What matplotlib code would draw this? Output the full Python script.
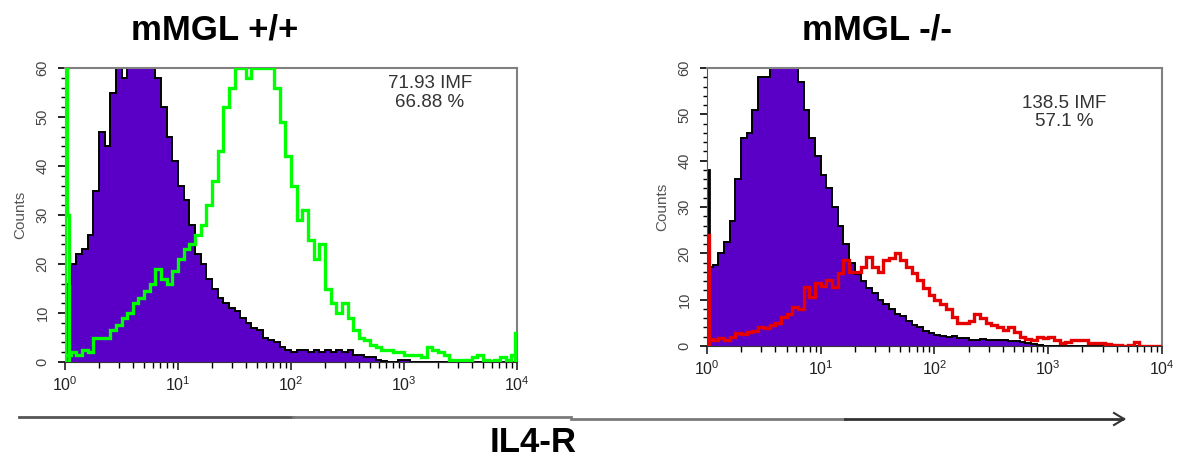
# -*- coding: utf-8 -*-
# Гистограммы IL4-R (проточная цитометрия): mMGL +/+ и mMGL -/-
import numpy as np
import matplotlib.pyplot as plt
from matplotlib.lines import Line2D
from matplotlib.ticker import LogLocator, MultipleLocator, NullFormatter

plt.rcParams['font.family'] = ['Liberation Sans', 'DejaVu Sans']

# Шкала: 4 декады, 80 бинов по 0.05 декады
decades = 4
n_bins = 80

# Изотипический контроль, mMGL +/+
iso_wt = [16, 20, 22, 23, 26, 35, 47, 44, 55, 60,
          58, 60, 60, 60, 60, 60, 58, 52, 46, 41,
          36, 33, 28, 22, 20, 17, 15, 13, 12, 11,
          10.5, 9, 8, 7, 6.5, 5, 4.5, 4, 3, 2.5,
          2, 2.5, 2.5, 2, 2.5, 2, 2.5, 2, 2.5, 2,
          2.5, 1.5, 1.5, 1, 1, 0.5, 0.3, 0, 0, 0.5,
          0.4, 0, 0, 0, 0, 0, 0, 0, 0, 0,
          0, 0, 0, 0, 0, 0, 0, 0, 0, 0]

# IL4-R, mMGL +/+
il4r_wt = [1.5, 2, 1.5, 2.5, 2, 5, 5, 5, 6.5, 7.5,
           9, 10, 12, 13, 14.5, 16, 19, 17, 16, 18.5,
           21, 23, 24, 26, 28, 32, 37, 43, 52, 56,
           60, 60, 58, 60, 60, 60, 60, 56, 49, 42,
           36, 29, 31, 25, 21, 24, 15, 12, 10, 12,
           9, 6.5, 5, 4.5, 3.5, 3, 2.5, 2.5, 2, 2,
           1.5, 1.5, 1.5, 1, 3, 2.5, 2, 1.5, 0.5, 0.5,
           0.5, 0.5, 1, 1.5, 0.5, 0.3, 0.5, 1, 0.5, 1.5]

# Изотипический контроль, mMGL -/-
iso_ko = [17, 17.5, 20, 22.5, 27, 36, 45, 46, 51, 58,
          58, 60, 60, 60, 60, 60, 57, 51, 45, 41,
          37, 34, 30, 26, 22, 18, 15.5, 14, 12.5, 11.5,
          10, 9, 8, 7, 6.5, 5.5, 4.5, 4, 3.2, 2.8,
          2.4, 2.2, 2, 2.2, 1.8, 1.8, 1.4, 1.3, 1.5, 1.2,
          1.3, 1.2, 1.4, 1.1, 1, 0.8, 0.7, 0.5, 0.2, 0,
          0, 0, 0, 0, 0, 0, 0, 0, 0, 0,
          0, 0, 0, 0, 0, 0, 0, 0, 0, 0]

# IL4-R, mMGL -/-
il4r_ko = [1.5, 1.3, 1.8, 1.2, 2, 2.8, 2.5, 3, 3.2, 4,
           3.8, 4.5, 5, 6.3, 7, 8.4, 8, 12.7, 10.6, 13.5,
           13, 14.3, 12.7, 15.8, 18.6, 16, 16, 17, 19.2, 17,
           16, 18.6, 19, 20, 18.6, 17, 15.8, 14.3, 12.5, 11,
           10, 9, 8, 6.3, 5, 5, 5.5, 7, 6, 5,
           4.5, 4.2, 3.5, 4.2, 3, 2, 1.6, 1.3, 2, 1.8,
           2, 1.2, 0.6, 0.8, 1.3, 1.3, 1.2, 0.6, 0.6, 0.6,
           0.5, 0.3, 0.2, 0, 0.2, 0.8, 0, 0, 0, 0]

# События, накопившиеся в крайних каналах шкалы
il4r_wt_first = [60, 30]
il4r_wt_last = [6]
iso_wt_first = []
iso_ko_first = [38]
il4r_ko_first = [24]
il4r_ko_last = []

titles = ['mMGL +/+', 'mMGL -/-']
stats = ['71.93 IMF\n66.88 %', '138.5 IMF\n57.1 %']
axis_title = 'IL4-R'

PURPLE = '#5a00c6'
GREEN = '#00ff00'
RED = '#e60000'
FRAME = '#808080'

edges = np.logspace(0, decades, n_bins + 1)
pile_w = 0.016


def first_edges(n):
    return 10 ** (np.arange(n + 1) * pile_w)


def last_edges(n):
    return 10 ** (decades - np.arange(n, -1, -1) * pile_w)


def draw_panel(ax, iso, iso_first, il4r, il4r_first, il4r_last, color, stat, stat_xy):
    # контроль: заливка + чёрный контур
    ax.stairs(iso, edges, fill=True, color=PURPLE, lw=0, zorder=1)
    ax.stairs(iso, edges, color='black', lw=1.4, zorder=2)
    if iso_first:
        ax.stairs(iso_first, first_edges(len(iso_first)), color='black', lw=2, zorder=2)

    # окрашенный образец — только контур
    ax.stairs(il4r, edges, color=color, lw=2.4, zorder=3)
    if il4r_first:
        ax.stairs(il4r_first, first_edges(len(il4r_first)), color=color, lw=2.4, zorder=3)
    if il4r_last:
        ax.stairs(il4r_last, last_edges(len(il4r_last)), color=color, lw=2.4, zorder=3)

    ax.set_xscale('log')
    ax.set_xlim(1, 10 ** decades)
    ax.set_ylim(0, 60)
    ax.xaxis.set_major_locator(LogLocator(base=10, numticks=10))
    ax.xaxis.set_minor_locator(LogLocator(base=10, subs=np.arange(2, 10), numticks=10))
    ax.xaxis.set_minor_formatter(NullFormatter())
    ax.yaxis.set_major_locator(MultipleLocator(10))
    ax.yaxis.set_minor_locator(MultipleLocator(2))

    ax.tick_params(axis='x', which='major', direction='out', length=6, width=1.2,
                   labelsize=11.5, colors='#222222')
    ax.tick_params(axis='x', which='minor', direction='out', length=4, width=1)
    ax.tick_params(axis='y', which='major', direction='out', length=5, width=1.2, pad=6,
                   labelsize=10.5, labelrotation=90, labelcolor='#444444')
    ax.tick_params(axis='y', which='minor', direction='out', length=3, width=1)
    for lbl in ax.get_yticklabels():
        lbl.set_verticalalignment('center')

    for side in ['top', 'right']:
        ax.spines[side].set_color(FRAME)
        ax.spines[side].set_linewidth(1.5)
    ax.spines['left'].set_color('#555555')
    ax.spines['bottom'].set_color('#333333')

    ax.set_ylabel('Counts', fontsize=11, color='#555555', labelpad=6)
    ax.text(stat_xy[0], stat_xy[1], stat, transform=ax.transAxes, ha='center', va='center',
            fontsize=13.5, color='#333333', linespacing=1.15)


fig = plt.figure(figsize=(11.78, 4.59), dpi=100)
W, H = 1178, 459

ax1 = fig.add_axes([65 / W, 1 - 362 / H, 452 / W, 294 / H])
ax2 = fig.add_axes([707 / W, 1 - 346 / H, 455 / W, 278 / H])

draw_panel(ax1, iso_wt, iso_wt_first, il4r_wt, il4r_wt_first, il4r_wt_last,
           GREEN, stats[0], (0.807, 0.915))
draw_panel(ax2, iso_ko, iso_ko_first, il4r_ko, il4r_ko_first, il4r_ko_last,
           RED, stats[1], (0.785, 0.84))

# заголовки групп
fig.text(215 / W, 1 - 30 / H, titles[0], ha='center', va='center',
         fontsize=25, fontweight='bold')
fig.text(877 / W, 1 - 30 / H, titles[1], ha='center', va='center',
         fontsize=25, fontweight='bold')

# общая стрелка оси и подпись
segments = [(19, 293, 417, '#555555'), (293, 571, 417, '#7a7a7a'),
            (571, 845, 419, '#7a7a7a'), (845, 1122, 419, '#333333')]
for x0, x1, y, c in segments:
    fig.add_artist(Line2D([x0 / W, x1 / W], [1 - y / H, 1 - y / H],
                          transform=fig.transFigure, color=c, lw=2))
for dy in (-6, 6):
    fig.add_artist(Line2D([1114 / W, 1124 / W], [1 - (419 + dy) / H, 1 - 419 / H],
                          transform=fig.transFigure, color='#333333', lw=1.5))

fig.text(533 / W, 1 - 443 / H, axis_title, ha='center', va='center',
         fontsize=25, fontweight='bold')

fig.savefig('out.png', dpi=100)
plt.close(fig)
